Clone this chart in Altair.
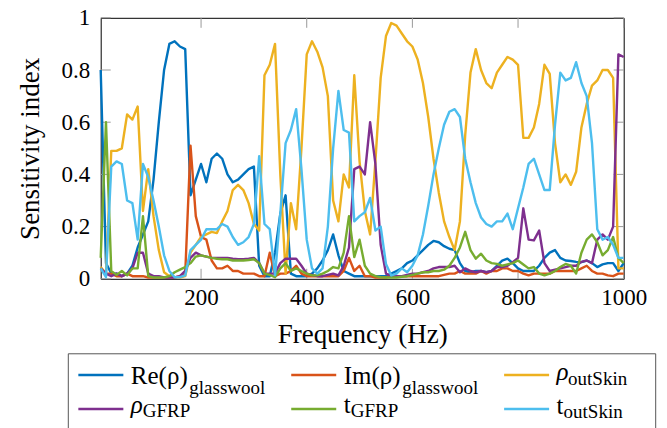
import altair as alt
import pandas as pd

# ---------------- data ----------------
freq = list(range(10, 1001, 10))

re_rho_glasswool = [
    0.80, 0.06, 0.02, 0.02, 0.01, 0.02, 0.05, 0.12, 0.17, 0.22,
    0.38, 0.60, 0.80, 0.90, 0.91, 0.89, 0.88, 0.32, 0.38, 0.44,
    0.37, 0.46, 0.48, 0.46, 0.40, 0.37, 0.38, 0.40, 0.42, 0.43,
    0.05, 0.01, 0.01, 0.10, 0.25, 0.32, 0.02, 0.01, 0.01, 0.01,
    0.02, 0.04, 0.07, 0.11, 0.17, 0.09, 0.03, 0.02, 0.01, 0.01,
    0.01, 0.01, 0.01, 0.01, 0.01, 0.02, 0.03, 0.04, 0.06, 0.07,
    0.09, 0.11, 0.13, 0.145, 0.14, 0.125, 0.115, 0.11, 0.06, 0.03,
    0.025, 0.03, 0.03, 0.025, 0.03, 0.05, 0.07, 0.077, 0.06, 0.04,
    0.03, 0.03, 0.03, 0.05, 0.08, 0.10, 0.11, 0.08, 0.07, 0.068,
    0.065, 0.064, 0.07, 0.06, 0.045, 0.055, 0.06, 0.06, 0.03, 0.06,
]
im_rho_glasswool = [
    0.04, 0.02, 0.02, 0.01, 0.01, 0.02, 0.01, 0.01, 0.01, 0.005,
    0.005, 0.005, 0.005, 0.005, 0.005, 0.01, 0.02, 0.51, 0.24, 0.16,
    0.15, 0.07, 0.04, 0.04, 0.05, 0.03, 0.03, 0.02, 0.02, 0.02,
    0.01, 0.01, 0.10, 0.01, 0.02, 0.02, 0.03, 0.05, 0.02, 0.01,
    0.01, 0.01, 0.01, 0.01, 0.01, 0.01, 0.03, 0.08, 0.03, 0.05,
    0.01, 0.01, 0.005, 0.005, 0.005, 0.01, 0.01, 0.01, 0.01, 0.01,
    0.01, 0.01, 0.01, 0.01, 0.01, 0.015, 0.02, 0.02, 0.03, 0.02,
    0.02, 0.02, 0.03, 0.02, 0.03, 0.03, 0.04, 0.04, 0.03, 0.03,
    0.02, 0.013, 0.02, 0.02, 0.02, 0.02, 0.03, 0.03, 0.03, 0.03,
    0.03, 0.04, 0.05, 0.03, 0.02, 0.02, 0.013, 0.01, 0.02, 0.02,
]
rho_outskin = [
    0.045, 0.02, 0.49, 0.49, 0.50, 0.63, 0.61, 0.66, 0.26, 0.42,
    0.24, 0.11, 0.025, 0.01, 0.005, 0.005, 0.01, 0.10, 0.13, 0.16,
    0.17, 0.18, 0.175, 0.22, 0.26, 0.34, 0.36, 0.34, 0.29, 0.21,
    0.185, 0.78, 0.82, 0.90, 0.40, 0.02, 0.29, 0.19, 0.50, 0.86,
    0.91, 0.87, 0.81, 0.70, 0.30, 0.22, 0.40, 0.35, 0.78, 0.45,
    0.26, 0.17, 0.45, 0.77, 0.93, 0.98, 0.97, 0.94, 0.91, 0.89,
    0.84, 0.75, 0.62, 0.46, 0.33, 0.22, 0.16, 0.11, 0.22, 0.55,
    0.79, 0.88, 0.80, 0.75, 0.73, 0.79, 0.82, 0.85, 0.84, 0.82,
    0.54, 0.54, 0.58, 0.67, 0.82, 0.785, 0.52, 0.37, 0.40, 0.36,
    0.41, 0.58, 0.67, 0.74, 0.76, 0.80, 0.80, 0.77, 0.04, 0.04,
]
rho_gfrp = [
    0.04, 0.02, 0.01, 0.02, 0.01, 0.02, 0.04, 0.10, 0.10, 0.02,
    0.01, 0.01, 0.005, 0.005, 0.005, 0.01, 0.03, 0.08, 0.10, 0.09,
    0.085, 0.08, 0.08, 0.08, 0.08, 0.077, 0.075, 0.075, 0.077, 0.08,
    0.06, 0.02, 0.02, 0.02, 0.06, 0.077, 0.077, 0.077, 0.05, 0.02,
    0.015, 0.01, 0.01, 0.015, 0.02, 0.013, 0.05, 0.12, 0.42, 0.43,
    0.40, 0.60, 0.44, 0.13, 0.02, 0.01, 0.01, 0.01, 0.015, 0.02,
    0.02, 0.025, 0.03, 0.04, 0.045, 0.045, 0.045, 0.05, 0.025, 0.04,
    0.03, 0.025, 0.03, 0.025, 0.03, 0.045, 0.045, 0.05, 0.064, 0.08,
    0.27, 0.15, 0.147, 0.185, 0.06, 0.03, 0.035, 0.04, 0.045, 0.05,
    0.05, 0.065, 0.07, 0.06, 0.15, 0.17, 0.15, 0.20, 0.86, 0.85,
]
t_gfrp = [
    0.08, 0.60, 0.03, 0.015, 0.03, 0.013, 0.04, 0.04, 0.24, 0.01,
    0.005, 0.005, 0.005, 0.01, 0.025, 0.035, 0.045, 0.06, 0.085, 0.09,
    0.085, 0.08, 0.077, 0.075, 0.075, 0.07, 0.07, 0.07, 0.072, 0.075,
    0.06, 0.02, 0.015, 0.006, 0.04, 0.06, 0.03, 0.04, 0.03, 0.02,
    0.013, 0.013, 0.02, 0.03, 0.045, 0.04, 0.10, 0.24, 0.083, 0.15,
    0.05, 0.02, 0.01, 0.006, 0.005, 0.005, 0.005, 0.008, 0.01, 0.015,
    0.02, 0.025, 0.025, 0.03, 0.03, 0.035, 0.05, 0.08, 0.12, 0.18,
    0.11, 0.077, 0.096, 0.07, 0.06, 0.057, 0.05, 0.055, 0.06, 0.07,
    0.055, 0.04, 0.045, 0.02, 0.013, 0.02, 0.03, 0.045, 0.057, 0.05,
    0.02, 0.10, 0.15, 0.17, 0.14, 0.09, 0.11, 0.16, 0.08, 0.06,
]
t_outskin = [
    0.04, 0.006, 0.43, 0.45, 0.44, 0.30, 0.29, 0.15, 0.44, 0.39,
    0.30, 0.20, 0.09, 0.03, 0.006, 0.006, 0.013, 0.11, 0.13, 0.15,
    0.19, 0.19, 0.19, 0.21, 0.20, 0.16, 0.13, 0.14, 0.16, 0.21,
    0.47, 0.21, 0.19, 0.013, 0.25, 0.52, 0.57, 0.65, 0.42, 0.15,
    0.04, 0.02, 0.04, 0.20, 0.50, 0.72, 0.57, 0.56, 0.22, 0.24,
    0.255, 0.31, 0.185, 0.20, 0.057, 0.013, 0.02, 0.04, 0.025, 0.05,
    0.09, 0.17, 0.28, 0.40, 0.50, 0.59, 0.64, 0.65, 0.62, 0.46,
    0.37, 0.29, 0.235, 0.21, 0.20, 0.22, 0.22, 0.25, 0.19, 0.27,
    0.35, 0.44, 0.46, 0.40, 0.34, 0.34, 0.59, 0.79, 0.76, 0.77,
    0.83, 0.75, 0.70, 0.52, 0.19, 0.15, 0.16, 0.13, 0.08, 0.08,
]

series_keys = ["re_glass", "im_glass", "rho_out", "rho_gfrp", "t_gfrp", "t_out"]
series_values = [re_rho_glasswool, im_rho_glasswool, rho_outskin,
                 rho_gfrp, t_gfrp, t_outskin]
legend_main = ["Re(ρ)", "Im(ρ)", "ρ", "ρ", "t", "t"]
legend_sub = ["glasswool", "glasswool", "outSkin", "GFRP", "GFRP", "outSkin"]
legend_col = [0, 1, 2, 0, 1, 2]
legend_row = [0, 0, 0, 1, 1, 1]

x_ticks = [200, 400, 600, 800, 1000]
y_ticks = [0, 0.2, 0.4, 0.6, 0.8, 1]

# ---------------- styles ----------------
colors = ["#0072BD", "#D95319", "#EDB120", "#7E2F8E", "#77AC30", "#4DBEEE"]
FONT = "Liberation Serif, DejaVu Serif, serif"
W, H = 523, 261
TICK = 10

rows = []
for key, vals in zip(series_keys, series_values):
    for f, v in zip(freq, vals):
        rows.append({"series": key, "f": f, "v": v})
df = pd.DataFrame(rows)

x_scale = alt.Scale(domain=[10, 1000], nice=False, zero=False)
y_scale = alt.Scale(domain=[0, 1], nice=False, zero=False)

x_axis = alt.Axis(values=x_ticks, format="d", title="Frequency (Hz)",
                  grid=False, ticks=False, tickSize=0, domain=False,
                  labelPadding=8, titlePadding=12, labelFlush=False)
y_axis = alt.Axis(values=y_ticks, format="~g", title="Sensitivity index",
                  grid=False, ticks=False, tickSize=0, domain=False,
                  labelPadding=11, titlePadding=16, labelFlush=False)

xt = pd.DataFrame({"t": x_ticks})
yt = pd.DataFrame({"t": y_ticks})
tick_style = dict(color="#999999", strokeWidth=1)

ticks = [
    alt.Chart(xt).mark_rule(**tick_style).encode(
        x=alt.X("t:Q", scale=x_scale, axis=x_axis),
        y=alt.value(H), y2=alt.value(H - TICK)),
    alt.Chart(xt).mark_rule(**tick_style).encode(
        x=alt.X("t:Q", scale=x_scale, axis=x_axis),
        y=alt.value(0), y2=alt.value(TICK)),
    alt.Chart(yt).mark_rule(**tick_style).encode(
        y=alt.Y("t:Q", scale=y_scale, axis=y_axis),
        x=alt.value(0), x2=alt.value(TICK)),
    alt.Chart(yt).mark_rule(**tick_style).encode(
        y=alt.Y("t:Q", scale=y_scale, axis=y_axis),
        x=alt.value(W), x2=alt.value(W - TICK)),
]

lines = []
for i, key in enumerate(series_keys):
    lines.append(
        alt.Chart(df).transform_filter(alt.datum.series == key)
        .mark_line(strokeWidth=2.4, color=colors[i], strokeJoin="round")
        .encode(
            x=alt.X("f:Q", scale=x_scale, axis=x_axis),
            y=alt.Y("v:Q", scale=y_scale, axis=y_axis),
        )
    )

main = alt.layer(*ticks, *lines).properties(
    width=W, height=H,
    view=alt.ViewBackground(stroke="black", strokeWidth=1),
)

# ---------------- legend panel ----------------
# the panel's origin lines up with the plot's left edge
leg = pd.DataFrame({
    "main": legend_main, "sub": legend_sub,
    "col": legend_col, "row": legend_row, "key": series_keys,
})
LW, LH = 555, 75
BOX_LEFT = -32.4
lx = alt.Scale(domain=[0.105, 2.712], nice=False, zero=False)
ly = alt.Scale(domain=[-0.626, 1.580], nice=False, zero=False, reverse=True)

# per-entry text offsets (main dy, subscript dx, subscript dy, main style)
entry_style = {
    "re_glass": (9, 111, 19, "normal"),
    "im_glass": (9, 111, 19, "normal"),
    "rho_out": (5, 64, 10, "italic"),
    "rho_gfrp": (4, 64.5, 8, "italic"),
    "t_gfrp": (4, 59.5, 8, "normal"),
    "t_out": (5, 59.5, 9, "normal"),
}

one = pd.DataFrame({"k": [0]})
frame_style = dict(color="#555555", strokeWidth=1)
leg_layers = [
    alt.Chart(one).mark_rule(**frame_style).encode(
        x=alt.value(BOX_LEFT), x2=alt.value(LW), y=alt.value(0)),
    alt.Chart(one).mark_rule(**frame_style).encode(
        x=alt.value(BOX_LEFT), y=alt.value(0), y2=alt.value(LH)),
    alt.Chart(one).mark_rule(**frame_style).encode(
        x=alt.value(LW), y=alt.value(0), y2=alt.value(LH)),
]
for i, key in enumerate(series_keys):
    mdy, sdx, sdy, style = entry_style[key]
    base = alt.Chart(leg).transform_filter(alt.datum.key == key)
    xenc = alt.X("col:Q", scale=lx, axis=None)
    yenc = alt.Y("row:Q", scale=ly, axis=None)
    leg_layers.append(
        base.mark_rule(color=colors[i], strokeWidth=2.5, x2Offset=45).encode(
            x=xenc, x2="col:Q", y=yenc,
        )
    )
    leg_layers.append(
        base.mark_text(align="left", baseline="alphabetic", dx=52.5, dy=mdy,
                       font=FONT, fontSize=25, fontStyle=style,
                       color="black").encode(x=xenc, y=yenc, text="main:N")
    )
    leg_layers.append(
        base.mark_text(align="left", baseline="alphabetic", dx=sdx, dy=sdy,
                       font=FONT, fontSize=19, color="black").encode(
            x=xenc, y=yenc, text="sub:N")
    )

legend = alt.layer(*leg_layers).properties(
    width=LW, height=LH,
    view=alt.ViewBackground(stroke="transparent", strokeWidth=0),
)

chart = alt.vconcat(main, legend, spacing=4).properties(
    padding={"left": 15.7, "top": 5.8, "right": 10, "bottom": 0},
).configure_axis(
    labelFont=FONT, titleFont=FONT, labelFontSize=23, titleFontSize=27,
    labelColor="black", titleColor="black", titleFontWeight="normal",
).configure_view(stroke="black")

chart.save("out.html", embed_options={"renderer": "svg", "actions": False})
